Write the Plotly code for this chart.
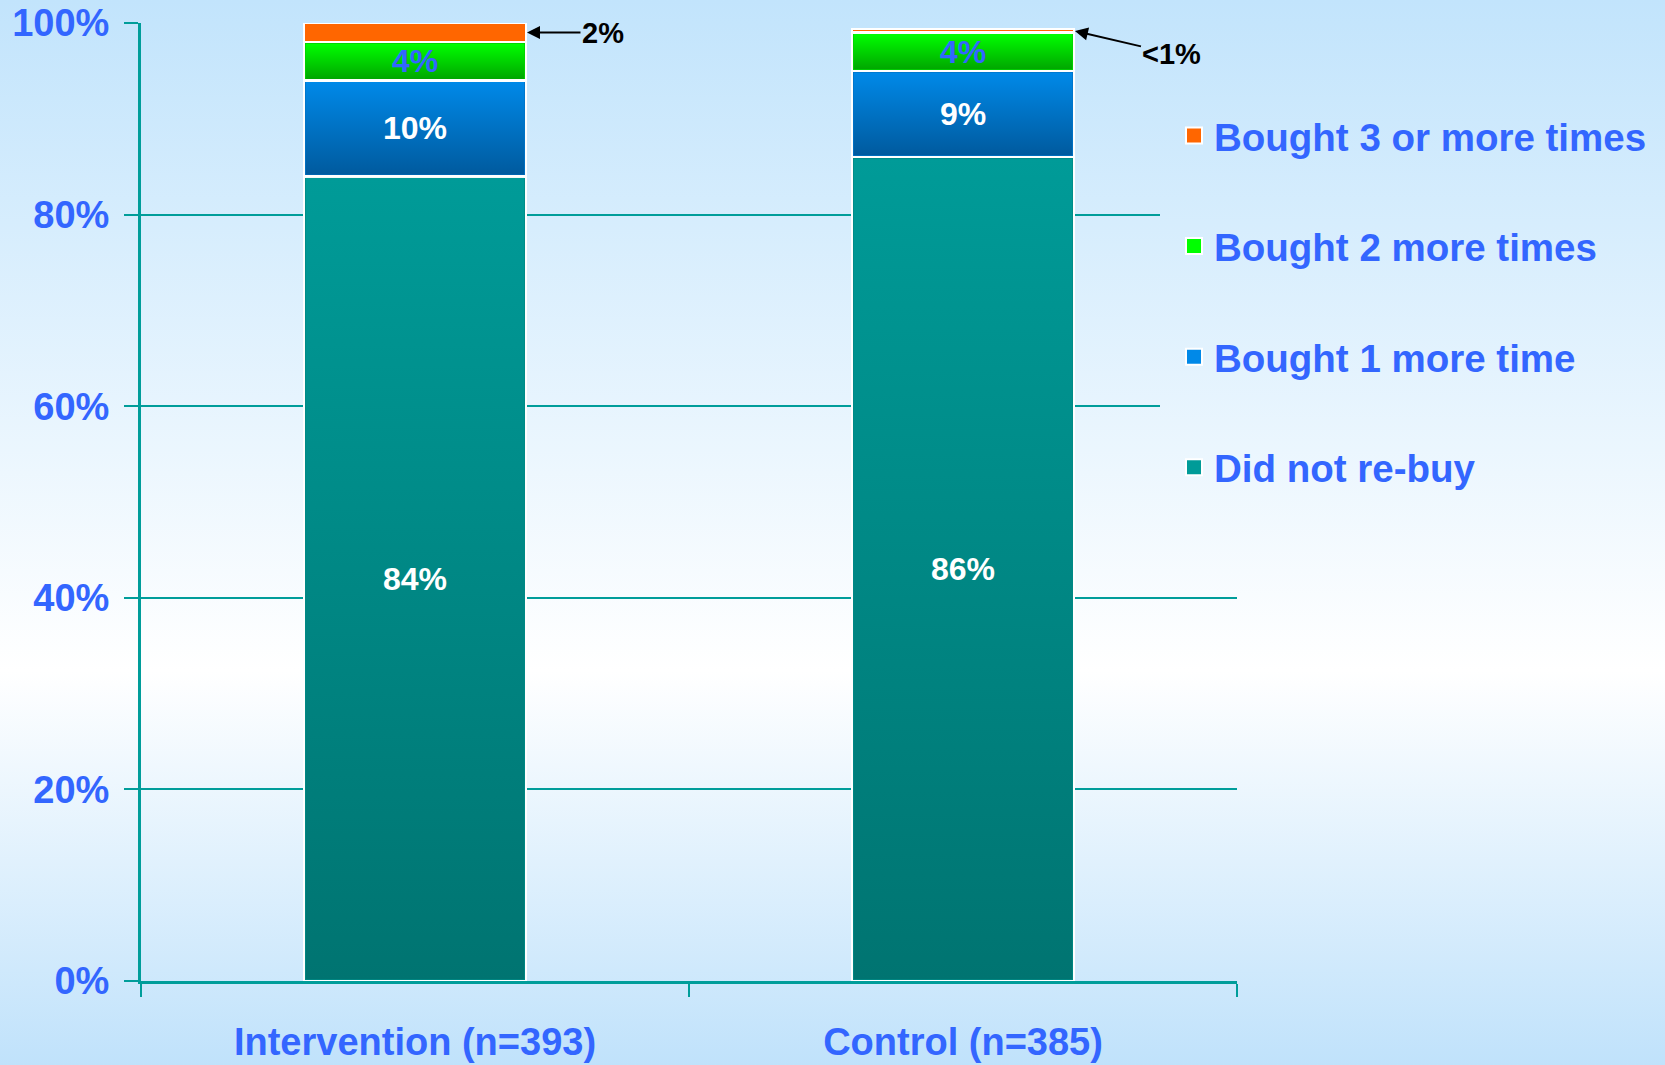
import base64
import plotly.graph_objects as go

# ---- data -------------------------------------------------------------
groups = ["Intervention (n=393)", "Control (n=385)"]
did_not_rebuy = [84, 86]
bought_1 = [10, 9]
bought_2 = [4, 4]
bought_3_plus = [2, 0.4]
bought_3_labels = ["2%", "<1%"]
y_ticks = [0, 20, 40, 60, 80, 100]
y_tick_labels = ["0%", "20%", "40%", "60%", "80%", "100%"]

series = [
    ("Did not re-buy", did_not_rebuy, "#008a86", ("#009b98", "#007471"), "white"),
    ("Bought 1 more time", bought_1, "#0074c8", ("#0089e8", "#005a9e"), "white"),
    ("Bought 2 more times", bought_2, "#00d400", ("#00ff00", "#00a600"), "#3366ff"),
    ("Bought 3 or more times", bought_3_plus, "#ff6600", ("#ff6600", "#ff6600"), None),
]

# ---- page geometry ----------------------------------------------------
W, H = 1665, 1065
ML, MR, MT, MB = 141, 428, 23, 84
PW, PH = W - ML - MR, H - MT - MB

FONT = "Liberation Sans, Arial, sans-serif"
BLUE_TXT = "#3366ff"
TEAL = "#009d9a"
BAR_W = 0.405         # bar width in category units
OUTLINE = 2.5         # white bar outline, px


def svg_uri(svg):
    return "data:image/svg+xml;base64," + base64.b64encode(svg.encode()).decode()


def vertical_gradient(top, bottom):
    return svg_uri(
        '<svg xmlns="http://www.w3.org/2000/svg" width="100" height="100" '
        'viewBox="0 0 100 100" preserveAspectRatio="none"><defs>'
        '<linearGradient id="g" x1="0" y1="0" x2="0" y2="1">'
        f'<stop offset="0" stop-color="{top}"/><stop offset="1" stop-color="{bottom}"/>'
        '</linearGradient></defs><rect width="100" height="100" fill="url(#g)"/></svg>'
    )


def page_background(x0=0, y0=0, w=W, h=H):
    # sky-blue -> white -> sky-blue page wash, optionally cropped to a window
    return svg_uri(
        f'<svg xmlns="http://www.w3.org/2000/svg" width="{w}" height="{h}" '
        f'viewBox="{x0} {y0} {w} {h}" preserveAspectRatio="none"><defs>'
        f'<linearGradient id="b" gradientUnits="userSpaceOnUse" x1="0" y1="0" x2="0" y2="{H}">'
        '<stop offset="0" stop-color="#c2e4fc"/>'
        '<stop offset="0.63" stop-color="#ffffff"/>'
        '<stop offset="1" stop-color="#c0e2fb"/>'
        f'</linearGradient></defs><rect x="0" y="0" width="{W}" height="{H}" fill="url(#b)"/></svg>'
    )


fig = go.Figure()

# stacked bars (solid base + white outline)
for name, vals, base_col, _, _ in series:
    fig.add_trace(go.Bar(
        x=groups, y=vals, name=name, showlegend=False,
        marker=dict(color=base_col, line=dict(color="white", width=OUTLINE)),
        hoverinfo="skip",
    ))

# legend keys
for name, _, base_col, (top, _b), _ in reversed(series):
    fig.add_trace(go.Scatter(
        x=[None], y=[None], mode="markers", name=name, legendgroup=name,
        marker=dict(symbol="square", size=16, color=top,
                    line=dict(color="white", width=2)),
    ))

images = [
    dict(source=page_background(), xref="paper", yref="paper",
         x=-ML / PW, y=1 + MT / PH, sizex=W / PW, sizey=H / PH,
         xanchor="left", yanchor="top", sizing="stretch", layer="below"),
]

# hide grid lines behind the legend block
px0, py0, pw_, ph_ = 1160, 110, 85, 380
images.append(dict(
    source=page_background(px0, py0, pw_, ph_), xref="paper", yref="paper",
    x=(px0 - ML) / PW, y=1 - (py0 - MT) / PH, sizex=pw_ / PW, sizey=ph_ / PH,
    xanchor="left", yanchor="top", sizing="stretch", layer="above"))

# gradient fills inside each bar segment, plus centred value labels
inset_x = (OUTLINE * 0.6) / PW * 2
inset_y = (OUTLINE * 0.6) / PH * 100
annotations = []
cum = [0.0] * len(groups)
for name, vals, base_col, (top, bottom), label_col in series:
    for i, v in enumerate(vals):
        seg_top = cum[i] + v
        images.append(dict(
            source=vertical_gradient(top, bottom), xref="x", yref="y",
            x=i, y=seg_top - inset_y, sizex=BAR_W - 2 * inset_x,
            sizey=max(v - 2 * inset_y, 0.01),
            xanchor="center", yanchor="top", sizing="stretch", layer="above"))
        if label_col is not None:
            annotations.append(dict(
                x=i, y=cum[i] + v / 2, xref="x", yref="y", text=f"{v}%",
                showarrow=False,
                font=dict(family=FONT, size=32, color=label_col, weight="bold")))
        cum[i] = seg_top

# arrowed call-outs for the smallest segment
top_offsets = [(77, 0), (98, 23)]
for i, v in enumerate(bought_3_plus):
    y_mid = did_not_rebuy[i] + bought_1[i] + bought_2[i] + v / 2
    ax, ay = top_offsets[i]
    annotations.append(dict(
        x=i + BAR_W / 2, y=y_mid, xref="x", yref="y", text=bought_3_labels[i],
        showarrow=True, ax=ax, ay=ay, arrowhead=2, arrowsize=1.3, arrowwidth=2,
        arrowcolor="black", standoff=1,
        font=dict(family=FONT, size=29, color="black", weight="bold")))

fig.update_layout(
    width=W, height=H,
    margin=dict(l=ML, r=MR, t=MT, b=MB, pad=0, autoexpand=False),
    barmode="stack", bargap=1 - BAR_W,
    paper_bgcolor="#c2e4fc", plot_bgcolor="rgba(0,0,0,0)",
    images=images, annotations=annotations,
    showlegend=True,
    legend=dict(
        x=(1174 - ML) / PW, y=1 - (104 - MT) / PH, xanchor="left", yanchor="top",
        bgcolor="rgba(0,0,0,0)", borderwidth=0, tracegroupgap=57.5,
        traceorder="grouped",
        font=dict(family=FONT, size=38.5, color=BLUE_TXT, weight="bold"),
    ),
    xaxis=dict(
        type="category", showline=True, linecolor=TEAL, linewidth=3,
        ticks="outside", tickson="boundaries", ticklen=13, tickwidth=2, tickcolor=TEAL,
        showgrid=False, zeroline=False, ticklabelstandoff=25, automargin=False,
        tickfont=dict(family=FONT, size=38, color=BLUE_TXT, weight="bold"),
    ),
    yaxis=dict(
        range=[0, 100], tickvals=y_ticks, ticktext=y_tick_labels,
        showline=True, linecolor=TEAL, linewidth=3,
        ticks="outside", ticklen=14, tickwidth=2, tickcolor=TEAL,
        showgrid=True, gridcolor=TEAL, gridwidth=2, zeroline=False,
        ticklabelstandoff=7, automargin=False,
        tickfont=dict(family=FONT, size=38, color=BLUE_TXT, weight="bold"),
    ),
)

fig.write_html("out.html")
